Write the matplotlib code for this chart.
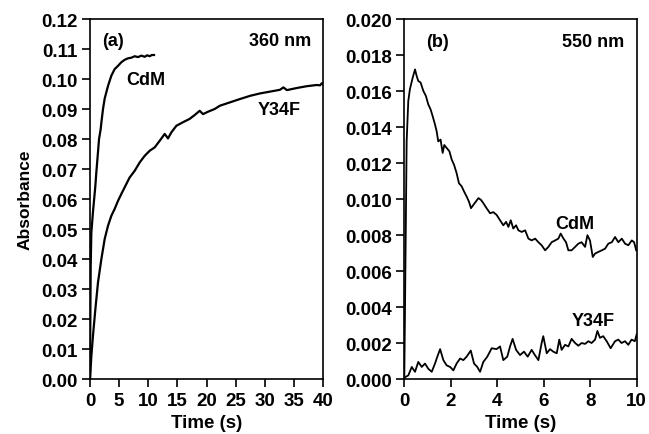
import matplotlib
matplotlib.use("Agg")
import matplotlib.pyplot as plt

plt.rcParams['font.family'] = ['Liberation Sans', 'DejaVu Sans']
plt.rcParams['font.weight'] = 'bold'

# (a) 360 nm
t_cdm_a = [0.0, 0.03, 0.07, 0.12, 0.23, 0.52, 0.9, 1.09, 1.37, 1.55, 1.83, 1.95, 2.23, 2.52, 3.09,
           3.66, 4.23, 4.81, 5.38, 5.95, 6.52, 7.1, 7.67, 8.24, 8.81, 9.39, 9.8, 10.25, 10.6, 10.99]
a_cdm_a = [0.0, 0.012, 0.025, 0.038, 0.0489, 0.056, 0.064, 0.069, 0.0757, 0.08, 0.0833, 0.0855, 0.09,
           0.0935, 0.0977, 0.1011, 0.1033, 0.1044, 0.1056, 0.1064, 0.1069, 0.1071, 0.1076, 0.1073,
           0.1078, 0.1074, 0.1079, 0.1076, 0.1080, 0.1080]

t_y34f_a = [0.0, 0.23, 0.52, 0.92, 1.37, 1.95, 2.52, 3.09, 3.66, 4.23, 4.81, 5.38, 5.95, 6.81, 7.67,
            8.53, 9.39, 10.25, 11.1, 11.96, 12.82, 13.39, 13.96, 14.82, 15.96, 17.1, 17.97, 18.83,
            19.4, 20.26, 21.4, 22.3, 24.0, 25.7, 27.5, 29.2, 30.9, 32.6, 33.2, 33.8, 35.5, 37.2,
            38.9, 39.5, 39.8, 40.0]
a_y34f_a = [0.0, 0.0077, 0.0147, 0.0233, 0.0322, 0.04, 0.0467, 0.0511, 0.0544, 0.0567, 0.0594,
            0.0617, 0.0639, 0.0672, 0.0694, 0.0722, 0.0744, 0.0761, 0.0772, 0.0794, 0.0817, 0.0802,
            0.0822, 0.0844, 0.0856, 0.0867, 0.088, 0.0894, 0.0883, 0.0891, 0.09, 0.0911, 0.0922,
            0.0933, 0.0944, 0.0952, 0.0958, 0.0964, 0.0972, 0.0963, 0.097, 0.0976, 0.098, 0.0979,
            0.0986, 0.0982]

# (b) 550 nm
t_cdm_b = [0.0, 0.03, 0.06, 0.1, 0.17, 0.24, 0.36, 0.46, 0.53, 0.6, 0.7, 0.82, 0.93, 1.03, 1.13,
           1.22, 1.32, 1.39, 1.46, 1.56, 1.65, 1.72, 1.82, 1.94, 2.04, 2.14, 2.25, 2.35, 2.47, 2.57,
           2.68, 2.78, 2.87, 2.97, 3.08, 3.19, 3.3, 3.4, 3.54, 3.69, 3.83, 3.97, 4.12, 4.26, 4.38,
           4.48, 4.58, 4.69, 4.81, 4.91, 5.05, 5.2, 5.34, 5.48, 5.63, 5.77, 5.91, 6.06, 6.2, 6.34,
           6.49, 6.63, 6.73, 6.85, 6.96, 7.06, 7.2, 7.35, 7.49, 7.63, 7.78, 7.88, 7.99, 8.11, 8.21,
           8.35, 8.5, 8.64, 8.78, 8.93, 9.07, 9.21, 9.36, 9.5, 9.64, 9.79, 9.89, 9.98]
a_cdm_b = [0.0002, 0.004, 0.008, 0.0132, 0.01544, 0.0161, 0.01674, 0.0172, 0.01684, 0.01656,
           0.01647, 0.016, 0.01572, 0.01526, 0.01498, 0.0146, 0.01414, 0.01377, 0.0132, 0.0133,
           0.01256, 0.013, 0.01284, 0.01265, 0.01219, 0.0119, 0.01144, 0.01088, 0.0107, 0.01042,
           0.01014, 0.00986, 0.00949, 0.00967, 0.00986, 0.01005, 0.00995, 0.00977, 0.00949,
           0.00921, 0.00927, 0.00912, 0.00882, 0.00854, 0.00873, 0.00845, 0.00882, 0.00836,
           0.00854, 0.00826, 0.00817, 0.00826, 0.0078, 0.0077, 0.0078, 0.0076, 0.00743, 0.00715,
           0.00734, 0.0076, 0.0077, 0.0078, 0.00808, 0.0078, 0.0076, 0.00715, 0.00715, 0.00734,
           0.00752, 0.0076, 0.00734, 0.00799, 0.0077, 0.00678, 0.00697, 0.00706, 0.00715, 0.00724,
           0.00752, 0.0076, 0.00789, 0.0076, 0.0078, 0.00752, 0.00743, 0.0077, 0.0076, 0.00715]

t_y34f_b = [0.0, 0.03, 0.17, 0.32, 0.46, 0.6, 0.75, 0.89, 1.03, 1.18, 1.32, 1.42, 1.54, 1.68, 1.82,
            1.97, 2.11, 2.25, 2.4, 2.54, 2.68, 2.86, 3.0, 3.14, 3.26, 3.4, 3.57, 3.76, 3.97, 4.12,
            4.26, 4.43, 4.55, 4.66, 4.81, 4.98, 5.15, 5.31, 5.48, 5.62, 5.77, 5.91, 5.98, 6.13,
            6.27, 6.41, 6.56, 6.67, 6.77, 6.92, 7.06, 7.2, 7.35, 7.49, 7.63, 7.78, 7.92, 8.06, 8.21,
            8.31, 8.42, 8.56, 8.71, 8.88, 9.07, 9.21, 9.35, 9.5, 9.64, 9.78, 9.92, 10.0]
a_y34f_b = [0.0, 0.0001, 0.0002, 0.00067, 0.0004, 0.00095, 0.00067, 0.00086, 0.00057, 0.0004,
            0.00086, 0.00124, 0.00166, 0.00105, 0.00076, 0.00067, 0.00048, 0.00086, 0.00114,
            0.00105, 0.00124, 0.00158, 0.00086, 0.00067, 0.0004, 0.00095, 0.00124, 0.00171,
            0.00166, 0.00181, 0.00105, 0.00124, 0.00181, 0.00223, 0.00162, 0.00133, 0.00152,
            0.00124, 0.00162, 0.00133, 0.00105, 0.002, 0.00238, 0.00143, 0.00166, 0.00152, 0.00143,
            0.00219, 0.00162, 0.0019, 0.00181, 0.00223, 0.002, 0.00185, 0.002, 0.00195, 0.0021,
            0.002, 0.00219, 0.00267, 0.00229, 0.00238, 0.0021, 0.00171, 0.0021, 0.00219, 0.002,
            0.0021, 0.0019, 0.00219, 0.0021, 0.00248]

fig = plt.figure(figsize=(6.49, 4.35), dpi=100)
ax1 = fig.add_axes([0.1387, 0.1264, 0.359, 0.8276])
ax2 = fig.add_axes([0.623, 0.1264, 0.358, 0.8276])

fs = 13.5   # tick labels
afs = 13    # annotations

ax1.plot(t_cdm_a, a_cdm_a, color='black', lw=1.6)
ax1.plot(t_y34f_a, a_y34f_a, color='black', lw=1.6)
ax1.set_xlim(0, 40)
ax1.set_ylim(0, 0.12)
ax1.set_xticks(range(0, 41, 5))
ax1.set_yticks([i * 0.01 for i in range(13)])
ax1.set_yticklabels(['%.2f' % (i * 0.01) for i in range(13)])
ax1.set_ylabel('Absorbance', fontsize=12.5, fontweight='bold', labelpad=6)
ax1.set_xlabel('Time (s)', fontsize=13.5, fontweight='bold', labelpad=4)
ax1.text(2.0, 0.1127, '(a)', fontsize=afs, va='center')
ax1.text(38.0, 0.1127, '360 nm', fontsize=afs, va='center', ha='right')
ax1.text(6.2, 0.1, 'CdM', fontsize=afs, va='center')
ax1.text(28.8, 0.09, 'Y34F', fontsize=afs, va='center')

ax2.plot(t_cdm_b, a_cdm_b, color='black', lw=1.3)
ax2.plot(t_y34f_b, a_y34f_b, color='black', lw=1.3)
ax2.set_xlim(0, 10)
ax2.set_ylim(0, 0.02)
ax2.set_xticks(range(0, 11, 2))
ax2.set_yticks([i * 0.002 for i in range(11)])
ax2.set_yticklabels(['%.3f' % (i * 0.002) for i in range(11)])
ax2.set_xlabel('Time (s)', fontsize=13.5, fontweight='bold', labelpad=4)
ax2.text(0.94, 0.01875, '(b)', fontsize=afs, va='center')
ax2.text(9.46, 0.01875, '550 nm', fontsize=afs, va='center', ha='right')
ax2.text(6.5, 0.00864, 'CdM', fontsize=afs, va='center')
ax2.text(7.2, 0.00323, 'Y34F', fontsize=afs, va='center')

for ax in (ax1, ax2):
    ax.tick_params(direction='out', length=6, width=1.2, labelsize=fs, pad=3,
                   top=False, right=False)
    for s in ax.spines.values():
        s.set_linewidth(1.2)

fig.savefig('out.png', dpi=100)
